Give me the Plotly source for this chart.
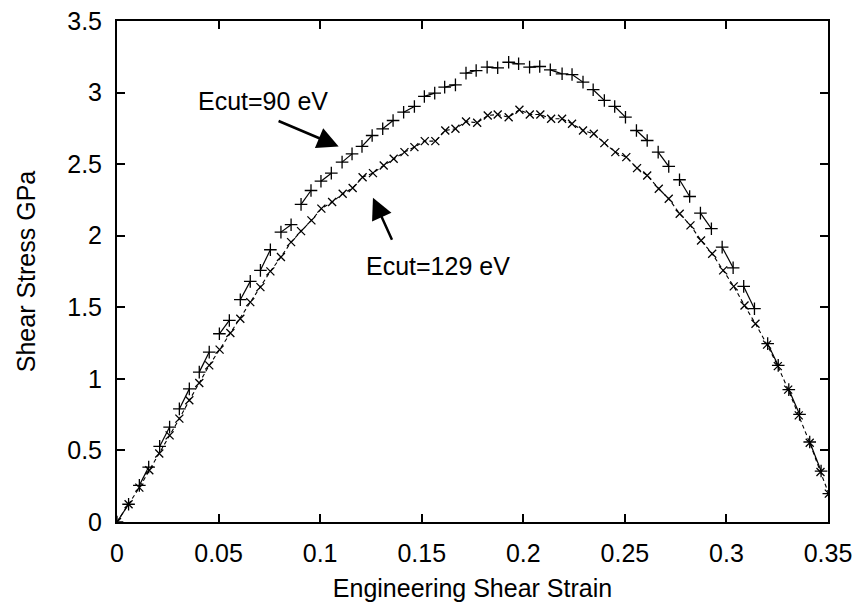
import plotly.graph_objects as go

# Ecut = 90 eV  (+ markers)
strain_90 = [0, .0057, .0110, .0156, .0210, .0259, .0307, .0356, .0405, .0454, .0504, .0553,
             .0607, .0656, .0706, .0755, .0807, .0857, .0906,
             .0955, .1004, .1055, .1108, .1157, .1206, .1256, .1308, .1359, .1411, .1464, .1513,
             .1564, .1613, .1666, .1718, .1768, .1822, .1874, .1928, .1977, .2031, .2081, .2133,
             .2191, .2240, .2294, .2344,
             .2399, .2450, .2503, .2557, .2610, .2664, .2716, .2769, .2819, .2872, .2926, .2979,
             .3033, .3085, .3138, .3203, .3255, .3307, .3360, .3410, .3466, .3504]
stress_90 = [0, .124, .256, .384, .528, .663, .790, .930, 1.047, 1.187, 1.315, 1.408,
             1.553, 1.681, 1.758, 1.902, 2.025, 2.077, 2.219,
             2.316, 2.381, 2.437, 2.514, 2.572, 2.624, 2.700, 2.747, 2.805, 2.863, 2.903, 2.973,
             2.996, 3.038, 3.054, 3.136, 3.154, 3.178, 3.173, 3.212, 3.201, 3.178, 3.182, 3.159,
             3.131, 3.126, 3.073, 3.020,
             2.945, 2.903, 2.828, 2.735, 2.665, 2.584, 2.484, 2.391, 2.274, 2.158, 2.049, 1.920,
             1.776, 1.646, 1.490, 1.246, 1.094, 0.925, 0.752, 0.559, 0.356, 0.198]

# Ecut = 129 eV  (x markers)
strain_129 = [0, .0057, .0110, .0159, .0208, .0259, .0307, .0356, .0405, .0454, .0505, .0558,
              .0607, .0656, .0706, .0755, .0807, .0857, .0906, .0957, .1006,
              .1059, .1111, .1160, .1209, .1260, .1313, .1362, .1415, .1464, .1515, .1567, .1616,
              .1666, .1718, .1773, .1825, .1874, .1928, .1981, .2032, .2084, .2137, .2191, .2240,
              .2294, .2347,
              .2399, .2453, .2507, .2560, .2610, .2667, .2716, .2770, .2823, .2875, .2930, .2984,
              .3036, .3089, .3143, .3200, .3253, .3304, .3356, .3410, .3463, .3504]
stress_129 = [0, .124, .240, .361, .478, .605, .722, .850, .971, 1.094, 1.204, 1.320,
              1.420, 1.536, 1.641, 1.751, 1.851, 1.955, 2.032, 2.107, 2.189,
              2.235, 2.293, 2.333, 2.409, 2.437, 2.491, 2.538, 2.584, 2.619, 2.661, 2.661, 2.735,
              2.747, 2.798, 2.789, 2.840, 2.847, 2.828, 2.880, 2.847, 2.847, 2.817, 2.817, 2.782,
              2.735, 2.712,
              2.647, 2.584, 2.549, 2.472, 2.421, 2.328, 2.258, 2.154, 2.072, 1.967, 1.874, 1.758,
              1.646, 1.513, 1.385, 1.239, 1.089, 0.925, 0.745, 0.554, 0.349, 0.198]

x_ticks = [0, 0.05, 0.1, 0.15, 0.2, 0.25, 0.3, 0.35]
x_ticklabels = ["0", "0.05", "0.1", "0.15", "0.2", "0.25", "0.3", "0.35"]
y_ticks = [0, 0.5, 1, 1.5, 2, 2.5, 3, 3.5]
y_ticklabels = ["0", "0.5", "1", "1.5", "2", "2.5", "3", "3.5"]

FONT = "Liberation Sans, Arial, Helvetica, sans-serif"

# line drawn in pairs of points (gnuplot-like broken line)
seg_x, seg_y = [], []
for i in range(0, len(strain_90) - 1, 2):
    seg_x += [strain_90[i], strain_90[i + 1], None]
    seg_y += [stress_90[i], stress_90[i + 1], None]

fig = go.Figure()
fig.add_trace(go.Scatter(x=seg_x, y=seg_y, mode="lines",
                         line=dict(color="black", width=1.2), showlegend=False, hoverinfo="skip"))
fig.add_trace(go.Scatter(x=strain_90, y=stress_90, mode="markers", name="Ecut=90 eV",
                         marker=dict(symbol="cross-thin", size=9, line=dict(color="black", width=1.3)),
                         showlegend=False))
fig.add_trace(go.Scatter(x=strain_129, y=stress_129, mode="lines+markers", name="Ecut=129 eV",
                         line=dict(color="black", width=1.1, dash="4px,3px"),
                         marker=dict(symbol="x-thin", size=8, line=dict(color="black", width=1.3)),
                         showlegend=False))

fig.add_annotation(x=0.0720, y=2.938, xref="x", yref="y", text="Ecut=90 eV", showarrow=False,
                   font=dict(family=FONT, size=25, color="black"))
fig.add_annotation(x=0.1578, y=1.791, xref="x", yref="y", text="Ecut=129 eV", showarrow=False,
                   font=dict(family=FONT, size=25, color="black"))
fig.add_annotation(x=0.1091, y=2.624, ax=0.0788, ay=2.806, xref="x", yref="y", axref="x", ayref="y",
                   text="", showarrow=True, arrowhead=2, arrowsize=1.7, arrowwidth=2.5,
                   arrowcolor="black", standoff=0)
fig.add_annotation(x=0.1260, y=2.265, ax=0.1357, ay=1.962, xref="x", yref="y", axref="x", ayref="y",
                   text="", showarrow=True, arrowhead=2, arrowsize=1.7, arrowwidth=2.5,
                   arrowcolor="black", standoff=0)

axis_common = dict(showline=True, linecolor="black", linewidth=2, mirror="ticks",
                   ticks="inside", ticklen=8, tickwidth=1.5, tickcolor="black",
                   showgrid=False, zeroline=False, automargin=False,
                   tickfont=dict(family=FONT, size=25, color="black"))

fig.update_xaxes(range=[0, 0.35], tickvals=x_ticks, ticktext=x_ticklabels,
                 title=dict(text="Engineering Shear Strain", font=dict(family=FONT, size=25, color="black"),
                            standoff=26),
                 ticklabelstandoff=8, **axis_common)
fig.update_yaxes(range=[0, 3.5], tickvals=y_ticks, ticktext=y_ticklabels,
                 title=dict(text="Shear Stress GPa", font=dict(family=FONT, size=25, color="black"),
                            standoff=24),
                 ticklabelstandoff=8, **axis_common)

fig.update_layout(width=857, height=602, margin=dict(l=117, r=29, t=21, b=80),
                  plot_bgcolor="white", paper_bgcolor="white",
                  font=dict(family=FONT, size=25, color="black"))

fig.write_html("out.html")
